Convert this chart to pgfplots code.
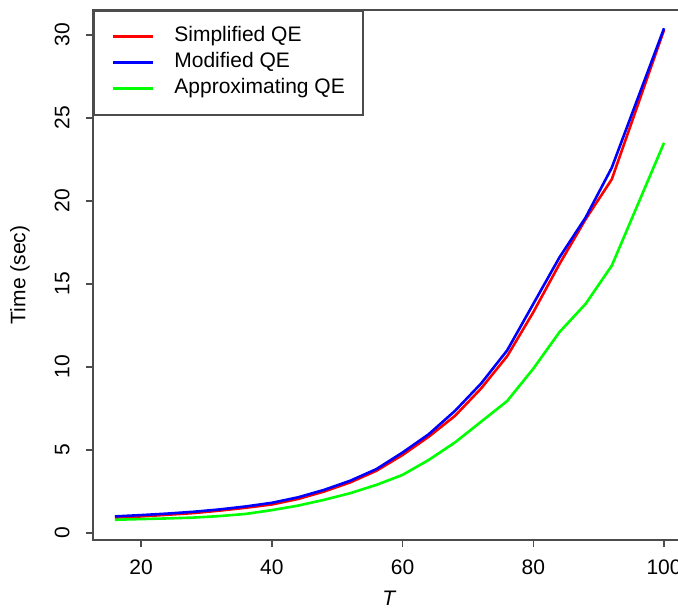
\documentclass[border=0pt]{standalone}
\usepackage{fontspec}
\setmainfont{Liberation Sans}
\usepackage{pgfplots}
\pgfplotsset{compat=1.18}
\begin{document}
\fontsize{10.5pt}{12.6pt}\selectfont
\begin{tikzpicture}
\useasboundingbox (0,0) rectangle (339pt,304.5pt);
\begin{axis}[
    at={(46.5pt,34.5pt)}, anchor=south west,
    scale only axis, width=296.5pt, height=265pt,
    xmin=12.64, xmax=103.36, ymin=-0.42, ymax=31.5,
    xtick={20,40,60,80,100}, ytick={0,5,10,15,20,25,30},
    xtick pos=bottom, ytick pos=left,
    tick align=outside, major tick length=3.5pt,
    axis line style={black!70, line width=0.8pt},
    every tick/.style={black!70, line width=0.8pt},
    /pgf/number format/assume math mode=true,
    ticklabel style={font=\fontsize{10.5pt}{12.6pt}\selectfont},
    xticklabel style={anchor=north, inner sep=0pt},
    yticklabel style={rotate=90, anchor=south, inner sep=0pt},
    xticklabel shift=6pt, yticklabel shift=8pt,
    xlabel={\textit{T}}, ylabel={Time (sec)},
    every axis x label/.style={at={(axis description cs:0.5,0)}, yshift=-29pt, anchor=center},
    every axis y label/.style={at={(axis description cs:0,0.5)}, xshift=-36.5pt, rotate=90, anchor=center},
    legend style={at={(0,1)}, anchor=north west, draw=black!70, line width=0.8pt,
        font=\fontsize{10.5pt}{12.6pt}\selectfont,
        inner xsep=9pt, inner ysep=8pt, row sep=3pt, column sep=10pt,
        nodes={inner sep=0pt, text height=7.5pt, text depth=2.5pt}},
    legend cell align=left,
    legend image code/.code={\draw[#1] (0pt,0pt) -- (20pt,0pt);},
]
\addplot[red, line width=1.3pt] coordinates {
(16,0.93)(20,1.0)(24,1.1)(28,1.2)(32,1.35)(36,1.52)(40,1.72)(44,2.05)(48,2.5)(52,3.05)(56,3.75)
(60,4.7)(64,5.8)(68,7.05)(72,8.7)(76,10.65)(80,13.3)(84,16.2)(88,18.9)(92,21.3)(96,25.8)(100,30.3)
};
\addplot[blue, line width=1.3pt] coordinates {
(16,1.0)(20,1.08)(24,1.17)(28,1.28)(32,1.42)(36,1.6)(40,1.82)(44,2.15)(48,2.6)(52,3.15)(56,3.85)
(60,4.85)(64,5.95)(68,7.35)(72,9.0)(76,11.0)(80,13.8)(84,16.6)(88,19.0)(92,22.0)(96,26.2)(100,30.4)
};
\addplot[green, line width=1.3pt] coordinates {
(16,0.8)(20,0.84)(24,0.88)(28,0.93)(32,1.02)(36,1.15)(40,1.38)(44,1.65)(48,2.0)(52,2.4)(56,2.9)
(60,3.5)(64,4.4)(68,5.45)(72,6.7)(76,7.95)(80,9.9)(84,12.1)(88,13.8)(92,16.1)(96,19.8)(100,23.5)
};
\legend{Simplified QE, Modified QE, Approximating QE}
\end{axis}
\end{tikzpicture}
\end{document}
